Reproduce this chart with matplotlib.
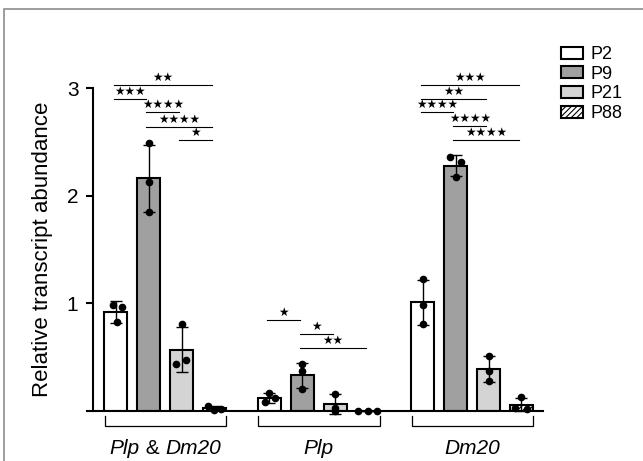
import matplotlib
matplotlib.use('Agg')
import matplotlib.pyplot as plt
from matplotlib.patches import Rectangle, Patch
from matplotlib.offsetbox import TextArea, HPacker, AnnotationBbox

plt.rcParams['font.family'] = ['Liberation Sans', 'DejaVu Sans']
plt.rcParams['hatch.linewidth'] = 0.8

# ---------------- data ----------------
# each gene label as (text, italic) pieces
genes = [[('Plp', True), (' & ', False), ('Dm20', True)],
         [('Plp', True)],
         [('Dm20', True)]]
ages = ['P2', 'P9', 'P21', 'P88']

mean_plp_dm20 = [0.92, 2.16, 0.57, 0.03]
sd_plp_dm20 = [0.10, 0.31, 0.21, 0.02]
pts_plp_dm20 = [[0.98, 0.97, 0.83], [2.49, 2.13, 1.85], [0.81, 0.44, 0.47], [0.05, 0.01, 0.02]]

mean_plp = [0.12, 0.33, 0.065, 0.0]
sd_plp = [0.05, 0.12, 0.09, 0.0]
pts_plp = [[0.17, 0.08, 0.12], [0.44, 0.37, 0.20], [0.16, 0.03, 0.0], [0.0, 0.0, 0.0]]

mean_dm20 = [1.01, 2.28, 0.39, 0.06]
sd_dm20 = [0.21, 0.10, 0.12, 0.06]
pts_dm20 = [[1.23, 0.98, 0.81], [2.36, 2.315, 2.17], [0.51, 0.37, 0.28], [0.127, 0.03, 0.02]]

# significance comparisons: (bar i, bar j, height, label)
sig_plp_dm20 = [(0, 3, 3.03, '**'), (0, 1, 2.90, '***'), (1, 2, 2.775, '****'),
                (1, 3, 2.64, '****'), (2, 3, 2.517, '*')]
sig_plp = [(0, 1, 0.842, '*'), (1, 2, 0.715, '*'), (1, 3, 0.582, '**')]
sig_dm20 = [(0, 3, 3.03, '***'), (0, 2, 2.90, '**'), (0, 1, 2.775, '****'),
            (1, 2, 2.645, '****'), (1, 3, 2.517, '****')]

# ---------------- style ----------------
colors = ['white', '#a0a0a0', '#d4d4d4', 'white']
hatches = [None, None, None, '//////']
jitter = [
    [[-0.08, 0.17, 0.04], [0, 0, 0], [0.0, -0.18, 0.15], [-0.2, 0.0, 0.2]],
    [[0.0, -0.15, 0.18], [0, 0, 0], [0, 0, 0], [-0.3, 0.0, 0.28]],
    [[0, 0, 0], [-0.17, 0.16, 0.0], [0, 0, 0], [0.0, -0.18, 0.18]],
]
group_step = 4.68
bar_w = 0.70

fig = plt.figure(figsize=(6.43, 4.61), dpi=100)
ax = fig.add_axes([93 / 643, 50 / 461, 450 / 643, 323 / 461])
ax.set_xlim(-0.70, 13.02)
ax.set_ylim(0, 3)

means = [mean_plp_dm20, mean_plp, mean_dm20]
sds = [sd_plp_dm20, sd_plp, sd_dm20]
pts = [pts_plp_dm20, pts_plp, pts_dm20]
sigs = [sig_plp_dm20, sig_plp, sig_dm20]

for g in range(3):
    base = g * group_step
    for i in range(4):
        x = base + i
        ax.bar(x, means[g][i], width=bar_w, color=colors[i], edgecolor='black',
               linewidth=1.5, hatch=hatches[i], zorder=2)
        ax.errorbar(x, means[g][i], yerr=sds[g][i], fmt='none', ecolor='black',
                    elinewidth=1.0, capsize=4, capthick=1.0, zorder=3, clip_on=False)
        ax.plot([x + j for j in jitter[g][i]], pts[g][i], 'o', color='black',
                ms=4.5, zorder=4, clip_on=False)
    # bracket under group
    x0 = base - 0.34
    x1 = base + 3 + 0.36
    ax.plot([x0, x0, x1, x1], [-0.05, -0.14, -0.14, -0.05], color='black',
            lw=0.9, clip_on=False, solid_joinstyle='miter')
    pieces = [TextArea(t, textprops=dict(fontsize=15, style='italic' if it else 'normal',
                                         family='Liberation Sans'))
              for (t, it) in genes[g]]
    pack = HPacker(children=pieces, align='baseline', pad=0, sep=0)
    ab = AnnotationBbox(pack, (base + 1.5, -0.35), xycoords='data', frameon=False,
                        box_alignment=(0.5, 0.5), annotation_clip=False, pad=0)
    ax.add_artist(ab)
    # significance lines
    for (i, j, h, lab) in sigs[g]:
        xa = base + i - 0.07
        xb = base + j - 0.07
        ax.plot([xa, xb], [h, h], color='black', lw=0.8, clip_on=False)
        ax.annotate('\u2605' * len(lab), xy=((xa + xb) / 2, h), xytext=(0, 0.8),
                    textcoords='offset points', ha='center', va='bottom',
                    fontsize=8.5, family='DejaVu Sans', annotation_clip=False)

ax.spines['top'].set_visible(False)
ax.spines['right'].set_visible(False)
ax.spines['left'].set_linewidth(1.5)
ax.spines['bottom'].set_linewidth(1.5)
ax.set_xticks([])
ax.set_yticks([0, 1, 2, 3])
ax.set_yticklabels(['', '1', '2', '3'], fontsize=15)
ax.tick_params(axis='y', length=5, width=1.5, pad=5.5)
ax.set_ylabel('Relative transcript abundance', fontsize=16, labelpad=10)

handles = [Patch(facecolor=colors[i], edgecolor='black', linewidth=1.5,
                 hatch=hatches[i]) for i in range(4)]
fig.legend(handles, ages, loc='upper left', bbox_to_anchor=(561 / 643, 1 - 46 / 461),
           frameon=False, fontsize=13, handlelength=1.2, handleheight=0.65,
           handletextpad=0.45, labelspacing=0.15, borderpad=0, borderaxespad=0)

fig.patches.append(Rectangle((4 / 643, -0.1), 2.0, 1.1 - 9 / 461,
                             transform=fig.transFigure, fill=False,
                             edgecolor='#8c8c8c', lw=1.2))

fig.savefig('out.png', dpi=100)
